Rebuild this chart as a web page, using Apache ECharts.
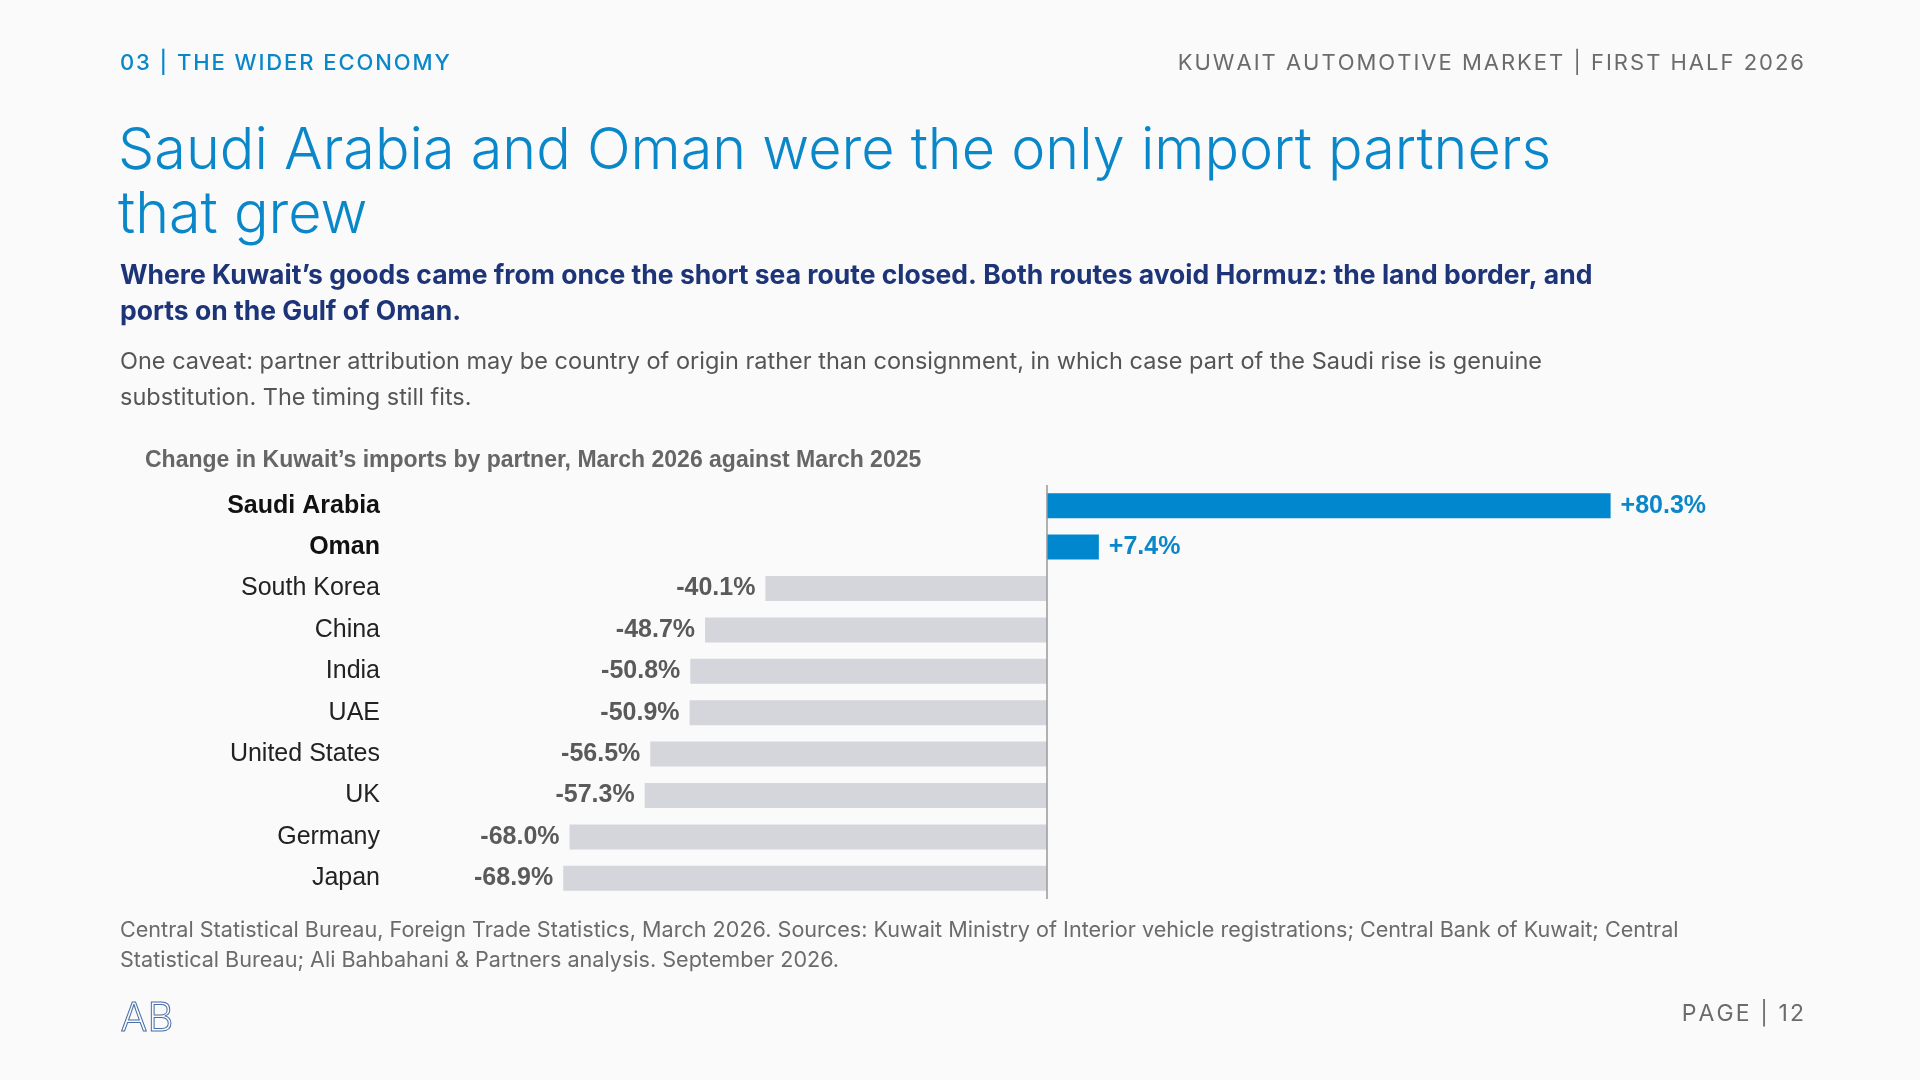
<!DOCTYPE html>
<html>
<head>
<meta charset="utf-8">
<script src="https://cdn.jsdelivr.net/npm/echarts@6/dist/echarts.min.js"></script>
<style>
  html, body { margin: 0; padding: 0; background: #fafafa; }
  #chart { width: 1920px; height: 1080px; }
</style>
</head>
<body>
<div id="chart"></div>
<script>
// partners, top to bottom
var partners = ['Saudi Arabia', 'Oman', 'South Korea', 'China', 'India', 'UAE', 'United States', 'UK', 'Germany', 'Japan'];
var changes = [80.3, 7.4, -40.1, -48.7, -50.8, -50.9, -56.5, -57.3, -68.0, -68.9];
var highlighted = ['Saudi Arabia', 'Oman'];

var chart = echarts.init(document.getElementById('chart'));

// tracking for the header lines
function spaced(s) { return s.split('').join('\u200A'); }

var barData = changes.map(function (v, i) {
  var up = v > 0;
  return {
    value: v,
    itemStyle: { color: up ? '#0087cd' : '#d5d6db' },
    label: {
      show: true,
      position: up ? 'right' : 'left',
      distance: 10,
      formatter: (up ? '+' : '') + v.toFixed(1) + '%',
      color: up ? '#0a87c9' : '#5a5a5a',
      fontWeight: 'bold',
      fontSize: 25,
      fontFamily: 'Liberation Sans'
    }
  };
});

var headFont = 'Inter, "Noto Sans", sans-serif';

chart.setOption({
  backgroundColor: '#fafafa',
  animation: false,
  graphic: [
    { type: 'text', left: 120, top: 52, style: { text: spaced('03 | THE WIDER ECONOMY'), fill: '#0a87c9', font: '500 22px ' + headFont } },
    { type: 'text', right: 116, top: 52, style: { text: spaced('KUWAIT AUTOMOTIVE MARKET | FIRST HALF 2026'), fill: '#6b6b6b', font: '400 22px ' + headFont } },
    { type: 'text', left: 118, top: 120, style: { text: 'Saudi Arabia and Oman were the only import partners\nthat grew', fill: '#0a87c9', font: '300 57.5px ' + headFont, lineHeight: 64 } },
    { type: 'text', left: 120, top: 258, style: { text: 'Where Kuwait\u2019s goods came from once the short sea route closed. Both routes avoid Hormuz: the land border, and\nports on the Gulf of Oman.', fill: '#1d3478', font: '700 26.5px ' + headFont, lineHeight: 36 } },
    { type: 'text', left: 120, top: 344, style: { text: 'One caveat: partner attribution may be country of origin rather than consignment, in which case part of the Saudi rise is genuine\nsubstitution. The timing still fits.', fill: '#555555', font: '400 23.5px ' + headFont, lineHeight: 36 } },
    { type: 'text', left: 145, top: 449, style: { text: 'Change in Kuwait\u2019s imports by partner, March 2026 against March 2025', fill: '#666666', font: 'bold 23px "Liberation Sans", Arial, sans-serif' } },
    { type: 'text', left: 120, top: 915, style: { text: 'Central Statistical Bureau, Foreign Trade Statistics, March 2026. Sources: Kuwait Ministry of Interior vehicle registrations; Central Bank of Kuwait; Central\nStatistical Bureau; Ali Bahbahani & Partners analysis. September 2026.', fill: '#6b6b6b', font: '400 21.6px ' + headFont, lineHeight: 30 } },
    { type: 'text', right: 116, top: 1003, style: { text: spaced('PAGE | 12'), fill: '#6b6b6b', font: '400 23px ' + headFont } },
    { type: 'text', left: 120, top: 998, style: { text: 'AB', fill: 'none', stroke: '#4a6fa8', lineWidth: 1, font: '300 40px ' + headFont } }
  ],
  grid: { left: 380, top: 485, width: 1404, height: 414 },
  xAxis: {
    type: 'value', min: -95, max: 105,
    axisLine: { show: false }, axisTick: { show: false },
    axisLabel: { show: false }, splitLine: { show: false }
  },
  yAxis: {
    type: 'category', inverse: true, data: partners,
    position: 'left',
    axisLine: { show: false }, axisTick: { show: false },
    axisLabel: {
      margin: 0,
      fontSize: 25,
      fontFamily: 'Liberation Sans',
      formatter: function (name) {
        return highlighted.indexOf(name) >= 0 ? '{b|' + name + '}' : '{n|' + name + '}';
      },
      rich: {
        b: { fontWeight: 'bold', color: '#111111', fontSize: 25, fontFamily: 'Liberation Sans' },
        n: { color: '#222222', fontSize: 25, fontFamily: 'Liberation Sans' }
      }
    }
  },
  series: [{
    type: 'bar',
    data: barData,
    barWidth: 25,
    markLine: {
      silent: true, symbol: 'none', label: { show: false },
      lineStyle: { color: '#999999', type: 'solid', width: 1.5 },
      data: [{ xAxis: 0 }]
    }
  }]
});
</script>
</body>
</html>
